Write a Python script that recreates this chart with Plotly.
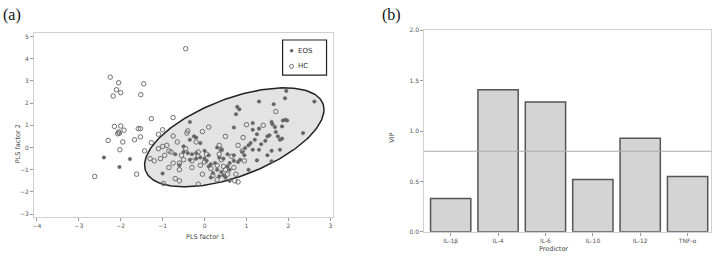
import numpy as np
import plotly.graph_objects as go

# ---------------- Panel (a) data ----------------
eos_x = [-2.4, -1.78, -2.03, 2.35, 1.95, 2.62, 1.92, 1.3, 1.65, 0.78, 0.83, 0.75,
         1.87, 1.93, 1.97, 1.6, 1.62, 1.15, 1.3, 1.15, 0.7, 1.68, 1.85, 1.55, 1.5,
         1.7, 1.75, 1.85, 1.8, 1.25, 1.2, 1.1, 1.35, 1.45, 1.05, 0.97, 1.15, 1.6,
         1.8, 1.3, 1.5, 1.25, 1.05, 1.6, 0.95, 0.9, 0.85, 0.7,
         -0.35, -0.5, -0.4, -0.3, -0.2, -0.35, -0.2, -0.1, 0.0, 0.05, 0.1, 0.15,
         0.25, 0.3, 0.4, 0.45, 0.5, 0.35, 0.55, 0.6, 0.4, 0.35, 0.3, 0.2, 0.6,
         -0.2, -0.25, -1.0, -0.7, -0.5, -0.1, 0.0, 0.45, 0.7, 0.55, 0.15, 0.6,
         -0.6, -0.35, 0.8, 0.1]
eos_y = [-0.45, -0.52, -0.88, 0.65, 2.55, 2.07, 2.22, 2.07, 1.95, 1.83, 1.72, 1.5,
         1.22, 1.25, 1.22, 1.15, 1.05, 1.1, 0.85, 0.8, 0.9, 0.92, 0.95, 0.55, 0.5,
         0.7, 0.5, 0.4, 0.35, 0.6, 0.35, 0.2, 0.15, 0.3, 0.1, -0.02, -0.1, -0.15,
         -0.1, -0.1, -0.35, -0.58, -1.0, -0.62, -0.35, -0.2, -0.55, -0.6,
         1.15, 0.05, -0.25, -0.3, -0.25, -0.55, -0.5, -0.45, -0.5, -0.6, -0.85, -0.75,
         -0.7, -1.0, -1.1, -1.25, -1.35, -1.3, -0.85, -0.7, -0.1, -0.45, 0.0, -1.15, -1.0,
         0.45, 0.5, -1.17, -0.3, -0.2, 0.2, -0.15, -0.5, -0.35, -0.3, -1.35, -1.5,
         -0.8, 0.35, -0.65, -0.35]

hc_x = [-2.62, -2.25, -2.05, -2.1, -2.0, -2.18, -1.45, -1.52, -0.45, -2.15, -2.0,
        -2.07, -2.03, -2.05, -2.3, -1.92, -1.95, -2.02, -1.58, -1.53, -1.67, -1.53,
        -1.43, -1.62, -1.27, -1.27, -1.1, -1.0, -0.75, -0.75, -0.42, -0.4, 0.1,
        -0.05, 1.7, 0.5, 0.92, 1.0, 1.4, -0.98, 0.8, 0.72, -0.15,
        -1.1, -1.2, -1.05, -0.95, -1.0, -0.9, -0.85, -0.8, -0.75, -0.7, -0.6, -0.55,
        -0.6, -0.6, -0.5, -0.3, -0.15, -0.1, 0.0, -0.05, 0.05, 0.15, 0.3, 0.35, 0.4,
        0.45, 0.5, 0.55, 0.35, 0.4, 0.2, 0.3, 0.7, 0.75, 0.8, 0.9, 0.95, -0.45, -0.3,
        -1.3, -0.85, -0.65, -0.2, -0.15, 0.65]
hc_y = [-1.3, 3.17, 2.92, 2.6, 2.47, 2.32, 2.87, 2.38, 4.45, 0.95, 0.97,
        0.62, 0.65, 0.7, 0.32, 0.78, 0.25, -0.1, 0.85, 0.85, 0.35, 0.48,
        -0.15, -1.2, 1.3, 0.22, 0.6, 0.8, 1.35, 0.52, 0.65, 0.75, 0.92,
        0.72, 1.62, 0.5, 0.45, 1.03, 1.0, -1.62, -1.55, -1.5, -1.65,
        -0.05, -0.6, -0.5, -0.35, 0.05, 0.1, -0.15, -0.2, -0.7, -1.4, -0.7, -0.35,
        -1.5, -1.0, -0.55, -0.6, -0.2, -0.8, -0.65, -1.2, -0.3, -0.95, -0.8, -0.3, -0.55,
        -0.85, -1.0, -1.2, 0.1, -0.1, -1.25, -1.45, -0.9, -1.2, 0.1, -0.15, -0.6, -0.05, -0.9,
        -0.5, -0.9, 0.25, 0.25, -0.4, -0.4]

group_labels = ["EOS", "HC"]

# ellipse parameters (centre, x/y half-extents, phase)
ell_cx, ell_cy = 0.71, 0.46
ell_X, ell_Y = 2.14, 2.23
ell_phi = np.deg2rad(56)

# ---------------- Panel (b) data ----------------
predictors = ["IL-1β", "IL-4", "IL-6", "IL-10", "IL-12", "TNF-α"]
vip = [0.33, 1.41, 1.29, 0.52, 0.93, 0.55]
vip_threshold = 0.8

# ---------------- figure ----------------
W, H = 717, 263
fig = go.Figure()

t = np.linspace(0, 2 * np.pi, 200)
ex = ell_cx + ell_X * np.cos(t)
ey = ell_cy + ell_Y * np.cos(t - ell_phi)
fig.add_trace(go.Scatter(x=ex, y=ey, mode="lines", fill="toself",
                         fillcolor="#e3e3e3", line=dict(color="#222222", width=1.5),
                         showlegend=False, hoverinfo="skip", xaxis="x", yaxis="y"))

eos_col = "#646464"
hc_col = "#6e6e6e"
fig.add_trace(go.Scatter(x=eos_x, y=eos_y, mode="markers", name=group_labels[0],
                         marker=dict(symbol="circle", size=3.6, color=eos_col,
                                     line=dict(color=eos_col, width=0.4)),
                         showlegend=False, xaxis="x", yaxis="y"))
fig.add_trace(go.Scatter(x=hc_x, y=hc_y, mode="markers", name=group_labels[1],
                         marker=dict(symbol="circle-open", size=4.5, color=hc_col,
                                     line=dict(width=1)),
                         showlegend=False, xaxis="x", yaxis="y"))

fig.add_trace(go.Bar(x=predictors, y=vip, marker=dict(color="#d4d4d4",
                     line=dict(color="#555555", width=1.5)),
                     width=0.85, showlegend=False, xaxis="x2", yaxis="y2"))

fig.add_shape(type="line", xref="x2 domain", yref="y2", x0=0, x1=1,
              y0=vip_threshold, y1=vip_threshold, line=dict(color="#aaaaaa", width=1))

# legend box drawn manually (paper coordinates)
def px(xp):
    return xp / W

def py(yp):
    return 1 - yp / H

fig.add_shape(type="rect", xref="paper", yref="paper", x0=px(282), x1=px(326),
              y0=py(73), y1=py(37), line=dict(color="#222222", width=1.2), fillcolor="white")
fig.add_shape(type="circle", xref="paper", yref="paper", x0=px(289.5), x1=px(292.5),
              y0=py(49.5), y1=py(46.5), line=dict(color=eos_col, width=0.5), fillcolor=eos_col)
fig.add_shape(type="circle", xref="paper", yref="paper", x0=px(289), x1=px(293),
              y0=py(66), y1=py(62), line=dict(color=hc_col, width=1), fillcolor="white")
leg_font = dict(family="DejaVu Sans", size=7, color="#333333")
fig.add_annotation(text=group_labels[0], x=px(295.5), y=py(48), xref="paper", yref="paper",
                   xanchor="left", yanchor="middle", showarrow=False, font=leg_font)
fig.add_annotation(text=group_labels[1], x=px(295.5), y=py(64), xref="paper", yref="paper",
                   xanchor="left", yanchor="middle", showarrow=False, font=leg_font)

tickfont = dict(family="DejaVu Sans", size=6, color="#555555")
axis_common = dict(showgrid=False, zeroline=False, showline=True, linecolor="#d0d0d0",
                   linewidth=1, mirror=True, ticks="outside", ticklen=3,
                   tickcolor="#999999", tickfont=tickfont)

fig.update_layout(
    width=W, height=H, margin=dict(l=0, r=0, t=0, b=0),
    paper_bgcolor="white", plot_bgcolor="white", showlegend=False,
    xaxis=dict(domain=[0.046, 0.464], range=[-4.07, 3.07], tickvals=[-4, -3, -2, -1, 0, 1, 2, 3],
               anchor="y", **axis_common),
    yaxis=dict(domain=[0.167, 0.886], range=[-3.14, 5.15], tickvals=[-3, -2, -1, 0, 1, 2, 3, 4, 5],
               anchor="x", **axis_common),
    xaxis2=dict(domain=[0.591, 0.992], range=[-0.56, 5.5], anchor="y2", **axis_common),
    yaxis2=dict(domain=[0.110, 0.897], range=[0, 2.0], tickvals=[0, 0.5, 1.0, 1.5, 2.0],
                ticktext=["0.0", "0.5", "1.0", "1.5", "2.0"], anchor="x2", **axis_common),
    bargap=0.15,
    font=dict(family="DejaVu Sans"),
)

ann_font = dict(family="DejaVu Sans", size=6.5, color="#444444")
panel_font = dict(family="Liberation Serif", size=16, color="#111111")
fig.add_annotation(text="(a)", x=0.0, y=1.0, xref="paper", yref="paper", xanchor="left",
                   yanchor="top", showarrow=False, font=panel_font)
fig.add_annotation(text="(b)", x=px(380), y=1.0, xref="paper", yref="paper", xanchor="left",
                   yanchor="top", showarrow=False, font=panel_font)
fig.add_annotation(text="PLS factor 1", x=px(183), y=py(246), xref="paper", yref="paper",
                   showarrow=False, font=ann_font)
fig.add_annotation(text="PLS factor 2", x=px(11), y=py(143), xref="paper", yref="paper",
                   showarrow=False, textangle=-90, font=ann_font)
fig.add_annotation(text="VIP", x=px(392), y=py(137), xref="paper", yref="paper",
                   showarrow=False, textangle=-90, font=ann_font)
fig.add_annotation(text="Predictor", x=px(570), y=py(258), xref="paper", yref="paper",
                   showarrow=False, font=ann_font)

fig.write_html("out.html", config={"displayModeBar": False},
               post_script="document.body.style.margin='0px';document.body.style.padding='0px';")
